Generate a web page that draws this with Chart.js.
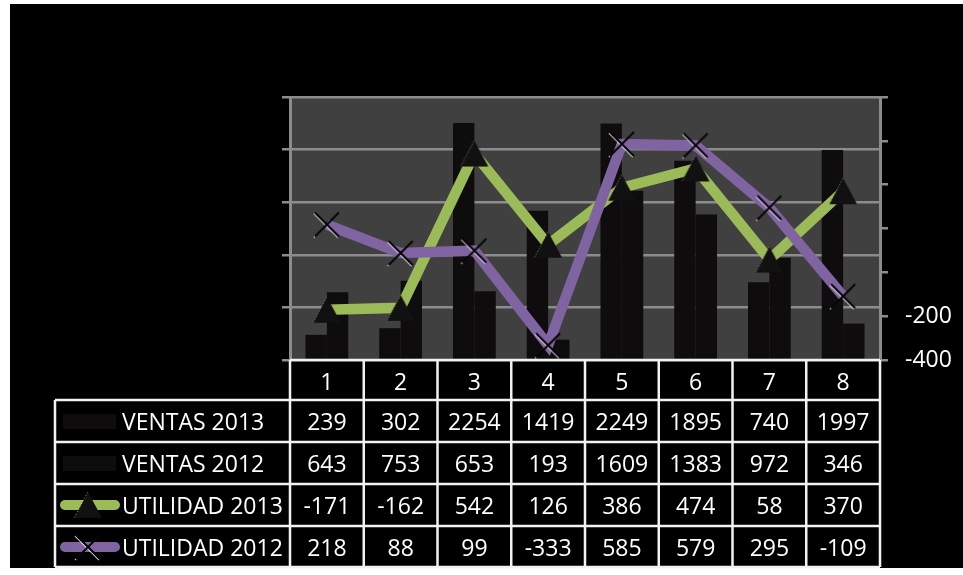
<!DOCTYPE html>
<html>
<head>
<meta charset="utf-8">
<title>Ventas y Utilidad</title>
<script src="https://cdn.jsdelivr.net/npm/chart.js@4.4.1/dist/chart.umd.min.js"></script>
<style>
  html, body { margin: 0; padding: 0; background: #fff; }
  #wrap { width: 963px; height: 575px; position: relative; }
</style>
</head>
<body>
<div id="wrap"><canvas id="salesChart" width="963" height="575"></canvas></div>
<script>
// ── Data ─────────────────────────────────────────────
const categories = ['1', '2', '3', '4', '5', '6', '7', '8'];
const ventas2013 = [239, 302, 2254, 1419, 2249, 1895, 740, 1997];
const ventas2012 = [643, 753, 653, 193, 1609, 1383, 972, 346];
const utilidad2013 = [-171, -162, 542, 126, 386, 474, 58, 370];
const utilidad2012 = [218, 88, 99, -333, 585, 579, 295, -109];

const seriesNames = ['VENTAS 2013', 'VENTAS 2012', 'UTILIDAD 2013', 'UTILIDAD 2012'];

const FONT = '"Open Sans", "Liberation Sans", sans-serif';
const GRID = '#8c8c8c';
const GREEN = '#9bbb59';
const PURPLE = '#8064a2';
const BAR = '#0e0c0c';

// ── Marker images ────────────────────────────────────
function makeTriangle() {
    const c = document.createElement('canvas');
    c.width = 30; c.height = 28;
    const g = c.getContext('2d');
    g.beginPath();
    g.moveTo(15, 1); g.lineTo(29, 27); g.lineTo(1, 27); g.closePath();
    g.fillStyle = '#111';
    g.fill();
    // dotted highlight on the left edge
    g.strokeStyle = 'rgba(255,255,255,0.55)';
    g.lineWidth = 1;
    g.setLineDash([1, 2]);
    g.beginPath(); g.moveTo(14.5, 1.5); g.lineTo(1.5, 26.5); g.stroke();
    return c;
}

function makeCross() {
    const c = document.createElement('canvas');
    c.width = 28; c.height = 28;
    const g = c.getContext('2d');
    const drawX = (dx, dy, color, w) => {
        g.strokeStyle = color; g.lineWidth = w;
        g.beginPath();
        g.moveTo(2 + dx, 2 + dy); g.lineTo(26 + dx, 26 + dy);
        g.moveTo(26 + dx, 2 + dy); g.lineTo(2 + dx, 26 + dy);
        g.stroke();
    };
    drawX(-1, 1, 'rgba(255,255,255,0.8)', 1.2);
    drawX(0, 0, '#000', 2);
    return c;
}

const triangleImg = makeTriangle();
const crossImg = makeCross();

// ── Plugins ──────────────────────────────────────────
const backdrop = {
    id: 'backdrop',
    beforeDraw(chart) {
        const { ctx, chartArea: a } = chart;
        ctx.save();
        ctx.fillStyle = '#fff';
        ctx.fillRect(0, 0, chart.width, chart.height);
        ctx.fillStyle = '#000';
        ctx.fillRect(10, 4, chart.width - 10, 564);
        ctx.fillStyle = '#404040';
        ctx.fillRect(a.left, a.top, a.right - a.left, a.bottom - a.top);
        ctx.restore();
    }
};

// data table under the plot, columns follow the category scale
const dataTable = {
    id: 'dataTable',
    afterDraw(chart) {
        const { ctx, chartArea: a } = chart;
        const x = chart.scales.x;
        const colW = (a.right - a.left) / categories.length;
        const top = a.bottom;
        const rowTops = [top + 40, top + 82, top + 124, top + 166];
        const bottom = top + 207;
        const leftEdge = 55;
        const rows = [ventas2013, ventas2012, utilidad2013, utilidad2012];

        ctx.save();
        ctx.strokeStyle = '#f2f2f2';
        ctx.lineWidth = 2.5;
        ctx.beginPath();
        ctx.moveTo(a.left, top); ctx.lineTo(a.right, top);
        rowTops.concat([bottom]).forEach(y => { ctx.moveTo(leftEdge, y); ctx.lineTo(a.right, y); });
        for (let k = 0; k <= categories.length; k++) {
            const ex = a.left + k * colW;
            ctx.moveTo(ex, top); ctx.lineTo(ex, bottom);
        }
        ctx.moveTo(leftEdge, rowTops[0]); ctx.lineTo(leftEdge, bottom);
        ctx.stroke();

        ctx.fillStyle = '#fff';
        ctx.font = '23px ' + FONT;
        ctx.textBaseline = 'middle';
        ctx.textAlign = 'center';
        categories.forEach((c, i) => ctx.fillText(c, x.getPixelForValue(i), top + 23));

        rows.forEach((vals, r) => {
            const cy = rowTops[r] + 23;
            ctx.textAlign = 'center';
            vals.forEach((v, i) => ctx.fillText(String(v), x.getPixelForValue(i), cy));
            ctx.textAlign = 'left';
            ctx.fillText(seriesNames[r], 122, cy);
        });

        // legend keys
        [0, 1].forEach(r => {
            const cy = rowTops[r] + 21;
            ctx.fillStyle = BAR;
            ctx.fillRect(63, cy - 7, 53, 15);
        });
        [[GREEN, triangleImg], [PURPLE, crossImg]].forEach(([color, img], j) => {
            const cy = rowTops[2 + j] + 21;
            ctx.strokeStyle = color;
            ctx.lineWidth = 10;
            ctx.lineCap = 'round';
            ctx.beginPath(); ctx.moveTo(65, cy); ctx.lineTo(115, cy); ctx.stroke();
            ctx.drawImage(img, 88 - img.width / 2, cy - img.height / 2);
        });
        ctx.restore();
    }
};

// ── Chart ────────────────────────────────────────────
new Chart(document.getElementById('salesChart'), {
    data: {
        labels: categories,
        datasets: [
            {
                type: 'line', label: seriesNames[3], data: utilidad2012, yAxisID: 'y2', order: 0,
                borderColor: PURPLE, borderWidth: 10.5, tension: 0,
                pointStyle: crossImg, pointRadius: 14, pointBackgroundColor: '#000'
            },
            {
                type: 'line', label: seriesNames[2], data: utilidad2013, yAxisID: 'y2', order: 1,
                borderColor: GREEN, borderWidth: 10.5, tension: 0,
                pointStyle: triangleImg, pointRadius: 14, pointBackgroundColor: '#000'
            },
            {
                type: 'bar', label: seriesNames[0], data: ventas2013, yAxisID: 'y', order: 2,
                backgroundColor: BAR, borderWidth: 0,
                categoryPercentage: 0.58, barPercentage: 1
            },
            {
                type: 'bar', label: seriesNames[1], data: ventas2012, yAxisID: 'y', order: 3,
                backgroundColor: BAR, borderWidth: 0,
                categoryPercentage: 0.58, barPercentage: 1
            }
        ]
    },
    options: {
        responsive: false,
        animation: false,
        layout: { padding: { top: 97, left: 282, right: 0, bottom: 215 } },
        plugins: { legend: { display: false }, tooltip: { enabled: false } },
        scales: {
            x: { display: false, offset: true },
            y: {
                position: 'left', min: 0, max: 2500,
                ticks: { display: false, stepSize: 500 },
                grid: { color: GRID, lineWidth: 2.5, tickLength: 8 },
                border: { color: GRID, width: 3 },
                afterFit: s => { s.width = 8; }
            },
            y2: {
                position: 'right', min: -400, max: 800,
                ticks: {
                    stepSize: 200, padding: 17, color: '#fff',
                    font: { family: FONT, size: 23 },
                    callback: v => (v < 0 ? String(v) : '')
                },
                grid: { drawOnChartArea: false, color: GRID, lineWidth: 2.5, tickLength: 8 },
                border: { color: GRID, width: 3 },
                afterFit: s => { s.width = 83; }
            }
        }
    },
    plugins: [backdrop, dataTable]
});
</script>
</body>
</html>
